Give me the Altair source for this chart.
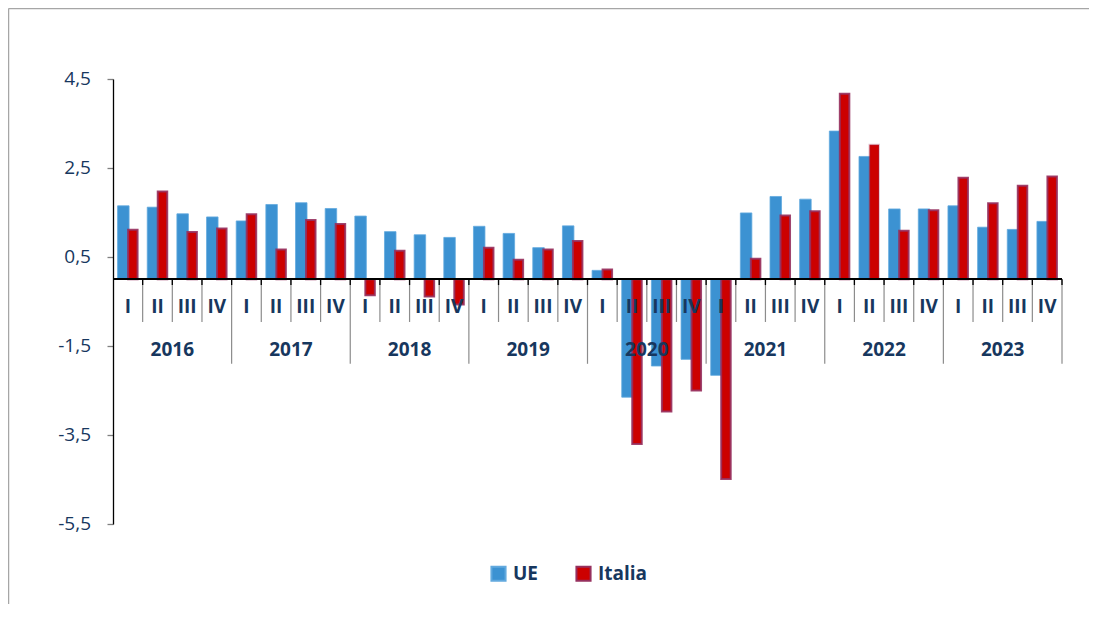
import altair as alt
import pandas as pd

years = ["2016", "2017", "2018", "2019", "2020", "2021", "2022", "2023"]
quarters = ["I", "II", "III", "IV"]
series_names = ["UE", "Italia"]
ue = [1.65, 1.62, 1.47, 1.40,
      1.31, 1.68, 1.72, 1.59,
      1.42, 1.07, 1.00, 0.94,
      1.19, 1.03, 0.71, 1.20,
      0.20, -2.65, -1.95, -1.80,
      -2.16, 1.49, 1.86, 1.80,
      3.33, 2.76, 1.58, 1.58,
      1.65, 1.17, 1.12, 1.30]
italia = [1.11, 1.97, 1.06, 1.14,
          1.46, 0.67, 1.33, 1.24,
          -0.36, 0.64, -0.39, -0.57,
          0.71, 0.44, 0.67, 0.86,
          0.22, -3.70, -2.97, -2.50,
          -4.49, 0.46, 1.43, 1.53,
          4.17, 3.02, 1.09, 1.55,
          2.28, 1.71, 2.10, 2.31]
y_ticks = [-5.5, -3.5, -1.5, 0.5, 2.5, 4.5]
y_tick_labels = ["-5,5", "-3,5", "-1,5", "0,5", "2,5", "4,5"]

NAVY = "#17375E"
FONT = "Open Sans"
UE_FILL = "#3C92D2"
IT_FILL = "#CC0000"
IT_EDGE = "#96305E"

rows = []
keys = []
for yi, y in enumerate(years):
    for qi, q in enumerate(quarters):
        k = f"{y}-{q}"
        keys.append(k)
        idx = yi * 4 + qi
        rows.append({"key": k, "year": y, "q": q, "series": "UE", "value": ue[idx]})
        rows.append({"key": k, "year": y, "q": q, "series": "Italia", "value": italia[idx]})
df = pd.DataFrame(rows)
qdf = df[df.series == "UE"][["key", "year", "q"]].reset_index(drop=True)
tdf = pd.DataFrame({"v": y_ticks, "label": y_tick_labels})

xs = alt.Scale(domain=keys, paddingInner=0, paddingOuter=0)
ys = alt.Scale(domain=[-5.5, 4.5], nice=False, zero=False)
fill_scale = alt.Scale(domain=series_names, range=[UE_FILL, IT_FILL])
stroke_scale = alt.Scale(domain=series_names, range=["#62A9DE", IT_EDGE])

legend = alt.Legend(
    orient="none", legendX=376, legendY=485, direction="horizontal", title=None,
    labelFont=FONT, labelFontSize=19, labelFontWeight="bold", labelColor=NAVY,
    symbolType="square", symbolSize=200, symbolStrokeWidth=2, labelOffset=5,
    columnPadding=33,
)

yaxis = alt.Axis(values=y_ticks, labels=False, title=None, grid=False,
                 domainColor="#000000", domainWidth=1.3,
                 tickColor="#808080", tickSize=6, tickWidth=1.3)


def X(band=None):
    if band is None:
        return alt.X("key:N", scale=xs, axis=None, sort=keys)
    return alt.X("key:N", scale=xs, axis=None, sort=keys, bandPosition=band)


def YD(v):
    return alt.YDatum(v, axis=yaxis, title=None, scale=ys)


def Y2D(v):
    return alt.Y2Datum(v)


base = alt.Chart(df)

ue_bars = base.transform_filter(alt.datum.series == "UE").mark_bar(
    width=11.5, xOffset=-4.5, strokeWidth=0.8
).encode(
    x=X(),
    y=alt.Y("value:Q", scale=ys, title=None, axis=yaxis),
    y2=Y2D(0),
    fill=alt.Fill("series:N", scale=fill_scale, legend=legend),
    stroke=alt.Stroke("series:N", scale=stroke_scale, legend=legend),
)

it_bars = base.transform_filter(alt.datum.series == "Italia").mark_bar(
    width=9.5, xOffset=5, strokeWidth=2
).encode(
    x=X(),
    y=alt.Y("value:Q", scale=ys, title=None, axis=yaxis),
    y2=Y2D(0),
    fill=alt.Fill("series:N", scale=fill_scale, legend=legend),
    stroke=alt.Stroke("series:N", scale=stroke_scale, legend=legend),
    strokeOpacity=alt.condition(alt.datum.key == "2022-II", alt.value(0.25), alt.value(0.9)),
)

y_labels = alt.Chart(tdf).mark_text(
    font=FONT, fontSize=19, color=NAVY, align="right", baseline="middle", dx=-22
).encode(
    x=alt.value(0),
    y=alt.Y("v:Q", scale=ys, title=None, axis=yaxis),
    text="label:N",
)

qbase = alt.Chart(qdf)

zero_line = qbase.mark_rule(color="#000000", strokeWidth=1.5).encode(
    y=YD(0)
)

q_sep = qbase.transform_filter(alt.datum.q != "IV").mark_rule(color="#8C8C8C", strokeWidth=1.2).encode(
    x=X(1), y=YD(0), y2=Y2D(-0.96),
)
y_sep = qbase.transform_filter(alt.datum.q == "IV").mark_rule(color="#8C8C8C", strokeWidth=1.2).encode(
    x=X(1), y=YD(0), y2=Y2D(-1.9),
)
black_ticks = qbase.mark_rule(color="#000000", strokeWidth=1.3).encode(
    x=X(1), y=YD(0), y2=Y2D(-0.13),
)

q_labels = qbase.mark_text(
    font=FONT, fontSize=19, fontWeight="bold", color=NAVY, baseline="middle", dy=28
).encode(
    x=X(), y=YD(0), text="q:N",
)

year_labels = qbase.transform_filter(alt.datum.q == "III").mark_text(
    font=FONT, fontSize=19, fontWeight="bold", color=NAVY, baseline="middle", dy=71
).encode(
    x=X(0), y=YD(0), text="year:N",
)

fdf = pd.DataFrame({"f": [0]})
frame_top = alt.Chart(fdf).mark_rule(color="#A6A6A6", strokeWidth=1.5).encode(
    x=alt.value(-104.5), x2=alt.value(2000), y=alt.value(-70.5),
)
frame_left = alt.Chart(fdf).mark_rule(color="#A6A6A6", strokeWidth=1.5).encode(
    x=alt.value(-104.5), y=alt.value(-70.5), y2=alt.value(2000),
)

chart = alt.layer(
    ue_bars, it_bars, q_sep, y_sep, black_ticks, zero_line, q_labels, year_labels,
    y_labels, frame_top, frame_left
).properties(
    width=949, height=445,
    autosize=alt.AutoSizeParams(type="none"),
    padding={"left": 105, "top": 71, "right": 27, "bottom": 80},
).configure(background="white").configure_view(stroke=None)

chart.save("out.html", embed_options={"renderer": "svg", "actions": False})
